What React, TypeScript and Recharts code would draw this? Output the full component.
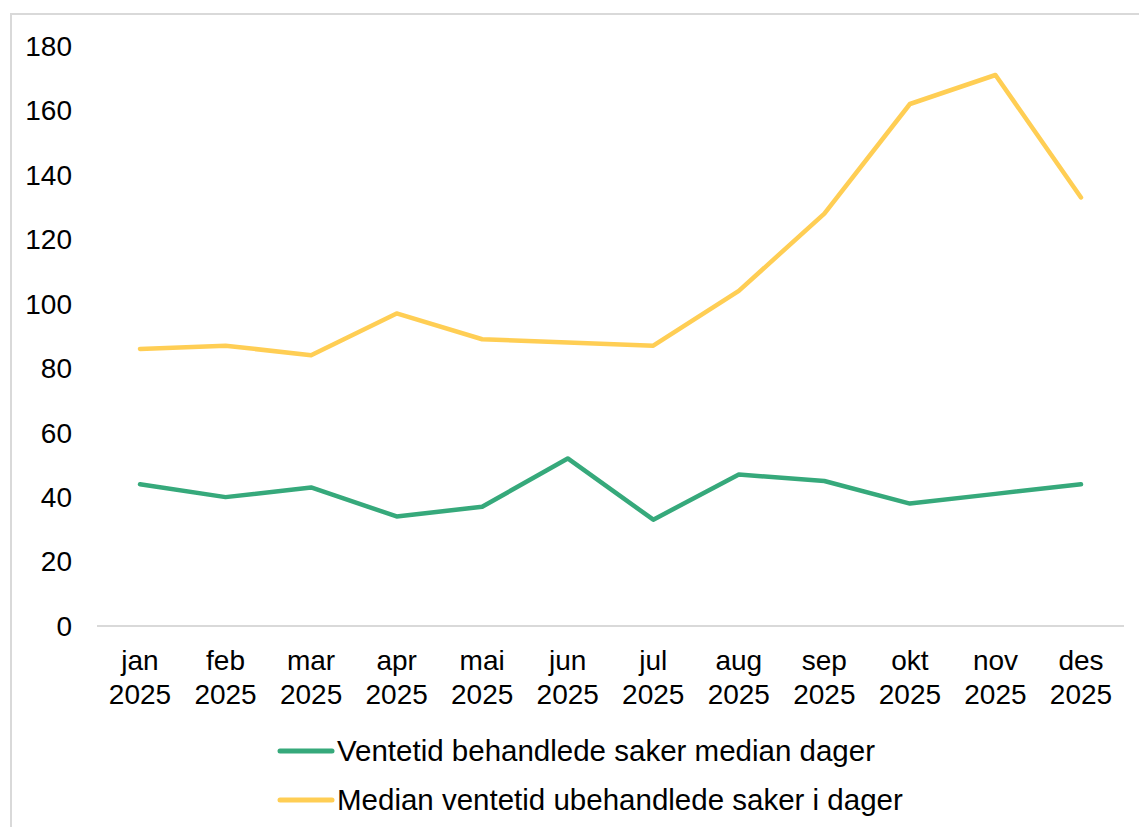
import React from 'react';
import { LineChart, Line, XAxis, YAxis } from 'recharts';

// months on the x axis (two-line labels)
const months = ['jan', 'feb', 'mar', 'apr', 'mai', 'jun', 'jul', 'aug', 'sep', 'okt', 'nov', 'des'];
const year = '2025';

// median waiting time, days
const behandlede = [44, 40, 43, 34, 37, 52, 33, 47, 45, 38, 41, 44];
const ubehandlede = [86, 87, 84, 97, 89, 88, 87, 104, 128, 162, 171, 133];

const yTicks = [0, 20, 40, 60, 80, 100, 120, 140, 160, 180];

const seriesNames = [
  'Ventetid behandlede saker median dager',
  'Median ventetid ubehandlede saker i dager',
];
const GREEN = '#36A97B';
const YELLOW = '#FFCE54';
const FONT = 'Arial, "Liberation Sans", sans-serif';

const data = months.map((m, i) => ({
  month: m,
  behandlede: behandlede[i],
  ubehandlede: ubehandlede[i],
}));

const MonthTick = (props: any) => {
  const { x, y, payload } = props;
  return (
    <text x={x} y={y} textAnchor="middle" fill="#000" fontSize={28} fontFamily={FONT}>
      <tspan x={x} dy={36}>{payload.value}</tspan>
      <tspan x={x} dy={34}>{year}</tspan>
    </text>
  );
};

export default function App() {
  const legendItems = [
    { name: seriesNames[0], color: GREEN, top: 751 },
    { name: seriesNames[1], color: YELLOW, top: 800 },
  ];

  return (
    <div style={{ position: 'absolute', left: 0, top: 0, width: 1139, height: 827, overflow: 'hidden', background: '#fff' }}>
      <div
        style={{
          position: 'absolute',
          left: 10,
          top: 13,
          width: 1200,
          height: 900,
          border: '2px solid #d9d9d9',
          boxSizing: 'border-box',
        }}
      />
      <div style={{ position: 'absolute', left: 0, top: 0 }}>
        <LineChart width={1139} height={827} data={data} margin={{ top: 46, right: 15, bottom: 111, left: 0 }}>
          <XAxis
            dataKey="month"
            axisLine={{ stroke: '#d9d9d9', strokeWidth: 2 }}
            tickLine={false}
            interval={0}
            height={90}
            padding={{ left: 43, right: 43 }}
            tick={<MonthTick />}
          />
          <YAxis
            domain={[0, 180]}
            ticks={yTicks}
            width={97}
            axisLine={false}
            tickLine={false}
            tickMargin={19}
            tick={{ fill: '#000', fontSize: 28, fontFamily: FONT }}
          />
          <Line
            dataKey="behandlede"
            name={seriesNames[0]}
            stroke={GREEN}
            strokeWidth={4.5}
            strokeLinecap="round"
            strokeLinejoin="round"
            dot={false}
            type="linear"
            isAnimationActive={false}
          />
          <Line
            dataKey="ubehandlede"
            name={seriesNames[1]}
            stroke={YELLOW}
            strokeWidth={4.5}
            strokeLinecap="round"
            strokeLinejoin="round"
            dot={false}
            type="linear"
            isAnimationActive={false}
          />
        </LineChart>
      </div>
      {legendItems.map((item) => (
        <div
          key={item.name}
          style={{
            position: 'absolute',
            left: 277,
            top: item.top - 18,
            height: 36,
            display: 'flex',
            alignItems: 'center',
            fontFamily: FONT,
            fontSize: 29.5,
            color: '#000',
            whiteSpace: 'nowrap',
          }}
        >
          <svg width={58} height={10} style={{ marginRight: 2 }}>
            <line x1={3} y1={5} x2={55} y2={5} stroke={item.color} strokeWidth={5} strokeLinecap="round" />
          </svg>
          <span>{item.name}</span>
        </div>
      ))}
    </div>
  );
}
